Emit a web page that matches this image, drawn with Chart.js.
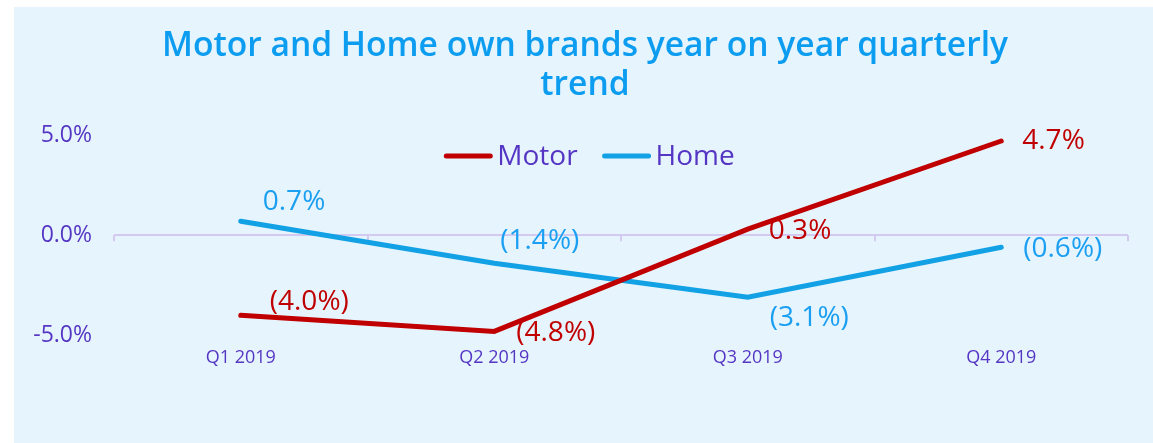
<!DOCTYPE html>
<html>
<head>
<meta charset="utf-8">
<script src="https://cdn.jsdelivr.net/npm/chart.js@4.4.1/dist/chart.umd.min.js"></script>
<style>
  html, body { margin: 0; padding: 0; background: #ffffff; }
  #panel {
    position: absolute; left: 14px; top: 7px;
    width: 1139px; height: 436px;
    background: #e6f4fd;
  }
</style>
</head>
<body>
<div id="panel"><canvas id="trendChart" width="1139" height="436"></canvas></div>
<script>
// quarterly categories and year on year change, in percent
const quarters = ['Q1 2019', 'Q2 2019', 'Q3 2019', 'Q4 2019'];
const motor = [-4.0, -4.8, 0.3, 4.7];
const home = [0.7, -1.4, -3.1, -0.6];
const yTicks = [-5, 0, 5];

// where each value label sits, relative to its point [dx, dy]
const motorLabelOffsets = [[29, -13], [22, 2], [21, 2], [21, 0]];
const homeLabelOffsets = [[22, -19], [6, -22], [22, 21], [22, 2]];

const FONT = "'Open Sans', sans-serif";
const PURPLE = '#5536c4';

const fmtPct = (v) => v < 0 ? '(' + Math.abs(v).toFixed(1) + '%)' : v.toFixed(1) + '%';

// zero line tick marks at category boundaries
const zeroTicks = {
  id: 'zeroTicks',
  beforeDatasetsDraw(chart) {
    const { ctx, scales: { x, y } } = chart;
    const y0 = y.getPixelForValue(0);
    ctx.save();
    ctx.strokeStyle = '#d3c9f1';
    ctx.lineWidth = 2;
    for (let i = 0; i <= quarters.length; i++) {
      const px = Math.round(x.getPixelForValue(i - 0.5));
      ctx.beginPath();
      ctx.moveTo(px, y0);
      ctx.lineTo(px, y0 + 6);
      ctx.stroke();
    }
    ctx.restore();
  }
};

// value labels next to each point
const valueLabels = {
  id: 'valueLabels',
  afterDatasetsDraw(chart) {
    const ctx = chart.ctx;
    ctx.save();
    ctx.font = '28px ' + FONT;
    ctx.textAlign = 'left';
    ctx.textBaseline = 'middle';
    chart.data.datasets.forEach((ds, di) => {
      const meta = chart.getDatasetMeta(di);
      meta.data.forEach((pt, i) => {
        const off = ds.labelOffsets[i];
        ctx.fillStyle = ds.labelColor;
        ctx.fillText(fmtPct(ds.data[i]), pt.x + off[0], pt.y + off[1]);
      });
    });
    ctx.restore();
  }
};

// legend drawn inside the plot, near the top
const innerLegend = {
  id: 'innerLegend',
  afterDraw(chart) {
    const ctx = chart.ctx;
    const sample = 48, gapText = 5, gapItem = 25;
    ctx.save();
    ctx.font = '28px ' + FONT;
    ctx.textBaseline = 'middle';
    ctx.textAlign = 'left';
    const items = chart.data.datasets.map(ds => ({
      label: ds.label, color: ds.borderColor, w: ctx.measureText(ds.label).width
    }));
    let total = items.reduce((s, it) => s + sample + gapText + it.w, 0) + gapItem * (items.length - 1);
    let cx = chart.width / 2 + 6 - total / 2;
    const cy = chart.chartArea.top + 21;
    items.forEach(it => {
      ctx.strokeStyle = it.color;
      ctx.lineWidth = 5;
      ctx.lineCap = 'round';
      ctx.beginPath();
      ctx.moveTo(cx + 2, cy);
      ctx.lineTo(cx + sample - 2, cy);
      ctx.stroke();
      ctx.fillStyle = PURPLE;
      ctx.fillText(it.label, cx + sample + gapText, cy + 1);
      cx += sample + gapText + it.w + gapItem;
    });
    ctx.restore();
  }
};

const ctx = document.getElementById('trendChart').getContext('2d');
new Chart(ctx, {
  type: 'line',
  data: {
    labels: quarters,
    datasets: [
      {
        label: 'Motor',
        data: motor,
        borderColor: '#c00000',
        labelColor: '#c00000',
        labelOffsets: motorLabelOffsets,
        borderWidth: 5,
        borderCapStyle: 'round',
        pointRadius: 0,
        tension: 0
      },
      {
        label: 'Home',
        data: home,
        borderColor: '#11a1e4',
        labelColor: '#1a9ff2',
        labelOffsets: homeLabelOffsets,
        borderWidth: 5,
        borderCapStyle: 'round',
        pointRadius: 0,
        tension: 0
      }
    ]
  },
  options: {
    responsive: false,
    animation: false,
    layout: { padding: { left: 28, right: 25, top: 0, bottom: 70 } },
    plugins: {
      legend: { display: false },
      tooltip: { enabled: false },
      title: {
        display: true,
        text: ['Motor and Home own brands year on year quarterly', 'trend'],
        color: '#0c9cf0',
        font: { family: FONT, size: 33.6, weight: '600', lineHeight: '39px' },
        padding: { top: 20, bottom: 30 }
      }
    },
    scales: {
      x: {
        offset: true,
        grid: { display: false },
        border: { display: false },
        ticks: {
          color: PURPLE,
          font: { family: FONT, size: 18 },
          padding: 4
        }
      },
      y: {
        min: -5,
        max: 5,
        afterBuildTicks: (scale) => { scale.ticks = yTicks.map(v => ({ value: v })); },
        afterFit: (scale) => {
          scale.width = 72;
          // let the wide "-5.0%" label run past the axis box
          scale._computeLabelArea = () => undefined;
        },
        grid: {
          drawTicks: false,
          lineWidth: 2,
          color: (c) => c.tick && c.tick.value === 0 ? '#d3c9f1' : 'rgba(0,0,0,0)'
        },
        border: { display: false },
        ticks: {
          color: PURPLE,
          font: { family: FONT, size: 23 },
          padding: 22,
          callback: (v) => Number(v).toFixed(1) + '%'
        }
      }
    }
  },
  plugins: [zeroTicks, valueLabels, innerLegend]
});
</script>
</body>
</html>
